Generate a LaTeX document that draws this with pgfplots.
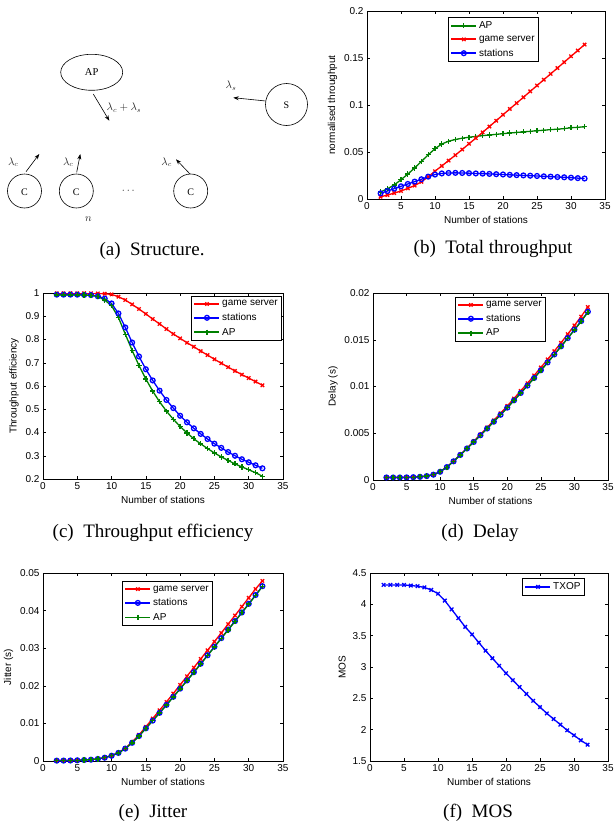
\documentclass[border=0pt]{standalone}
\usepackage{fontspec}
\setmainfont{Liberation Serif}
\newfontfamily\hv{Liberation Sans}
\usepackage{pgfplots}
\usepackage{pgfplotstable}
\pgfplotsset{compat=1.18}
\usetikzlibrary{arrows.meta}

\definecolor{mgreen}{rgb}{0,0.5,0}

% total throughput
\pgfplotstableread{
n ap gs st
2 0.0075 0.0024 0.0060
3 0.0108 0.0042 0.0085
4 0.0150 0.0063 0.0110
5 0.0205 0.0085 0.0135
6 0.0265 0.0113 0.0160
7 0.0330 0.0143 0.0185
8 0.0400 0.0183 0.0210
9 0.0470 0.0236 0.0238
10 0.0535 0.0296 0.0260
11 0.0585 0.0352 0.0272
12 0.0615 0.0409 0.0277
13 0.0633 0.0467 0.0278
14 0.0647 0.0527 0.0277
15 0.0657 0.0587 0.0275
16 0.0666 0.0648 0.0272
17 0.0674 0.0709 0.0270
18 0.0681 0.0771 0.0267
19 0.0688 0.0833 0.0264
20 0.0695 0.0896 0.0261
21 0.0702 0.0958 0.0257
22 0.0708 0.1020 0.0254
23 0.0714 0.1082 0.0251
24 0.0720 0.1145 0.0248
25 0.0726 0.1207 0.0245
26 0.0732 0.1269 0.0241
27 0.0738 0.1331 0.0238
28 0.0743 0.1393 0.0234
29 0.0749 0.1456 0.0231
30 0.0758 0.1518 0.0227
31 0.0763 0.1580 0.0222
32 0.0768 0.1643 0.0218
}\tabB

% throughput efficiency
\pgfplotstableread{
n gs st ap
2 0.999 0.993 0.992
3 0.999 0.993 0.992
4 0.999 0.993 0.992
5 0.999 0.993 0.992
6 0.999 0.992 0.991
7 0.999 0.991 0.990
8 0.998 0.986 0.985
9 0.997 0.976 0.970
10 0.994 0.955 0.945
11 0.984 0.912 0.895
12 0.970 0.852 0.823
13 0.951 0.787 0.753
14 0.931 0.727 0.688
15 0.910 0.672 0.630
16 0.888 0.624 0.578
17 0.867 0.580 0.532
18 0.845 0.540 0.492
19 0.824 0.505 0.457
20 0.805 0.472 0.426
21 0.786 0.444 0.398
22 0.769 0.418 0.373
23 0.750 0.394 0.351
24 0.733 0.372 0.331
25 0.715 0.352 0.312
26 0.698 0.334 0.295
27 0.681 0.316 0.280
28 0.665 0.300 0.265
29 0.649 0.285 0.252
30 0.634 0.272 0.240
31 0.619 0.259 0.227
32 0.603 0.246 0.212
}\tabC

% delay
\pgfplotstableread{
n gs st ap
2 0.00028 0.00027 0.00027
3 0.00028 0.00027 0.00027
4 0.00028 0.00027 0.00027
5 0.00029 0.00028 0.00028
6 0.00031 0.00030 0.00030
7 0.00035 0.00034 0.00034
8 0.00043 0.00042 0.00042
9 0.00058 0.00057 0.00057
10 0.00090 0.00088 0.00088
11 0.00140 0.00138 0.00137
12 0.00202 0.00200 0.00199
13 0.00272 0.00268 0.00267
14 0.00342 0.00337 0.00336
15 0.00414 0.00407 0.00406
16 0.00488 0.00479 0.00478
17 0.00562 0.00551 0.00550
18 0.00638 0.00624 0.00623
19 0.00714 0.00698 0.00697
20 0.00792 0.00774 0.00772
21 0.00872 0.00852 0.00850
22 0.00953 0.00931 0.00929
23 0.01035 0.01010 0.01008
24 0.01118 0.01091 0.01089
25 0.01203 0.01174 0.01171
26 0.01290 0.01258 0.01255
27 0.01378 0.01343 0.01340
28 0.01467 0.01430 0.01427
29 0.01560 0.01518 0.01515
30 0.01653 0.01608 0.01605
31 0.01748 0.01700 0.01696
32 0.01850 0.01800 0.01795
}\tabD

% jitter
\pgfplotstableread{
n gs st ap
2 0.00010 0.00010 0.00010
3 0.00012 0.00011 0.00011
4 0.00015 0.00014 0.00014
5 0.00020 0.00019 0.00019
6 0.00027 0.00026 0.00026
7 0.00038 0.00036 0.00036
8 0.00058 0.00055 0.00055
9 0.00092 0.00088 0.00088
10 0.00145 0.00140 0.00139
11 0.00225 0.00215 0.00214
12 0.00340 0.00330 0.00328
13 0.00505 0.00485 0.00482
14 0.00695 0.00665 0.00662
15 0.00910 0.00870 0.00866
16 0.01130 0.01075 0.01070
17 0.01350 0.01282 0.01277
18 0.01570 0.01492 0.01486
19 0.01795 0.01708 0.01702
20 0.02025 0.01925 0.01918
21 0.02255 0.02143 0.02136
22 0.02485 0.02363 0.02355
23 0.02715 0.02588 0.02580
24 0.02945 0.02813 0.02805
25 0.03175 0.03040 0.03032
26 0.03405 0.03268 0.03260
27 0.03640 0.03495 0.03487
28 0.03870 0.03722 0.03714
29 0.04105 0.03950 0.03942
30 0.04340 0.04180 0.04172
31 0.04575 0.04415 0.04405
32 0.04790 0.04650 0.04640
}\tabE

% MOS
\pgfplotstableread{
n txop
2 4.31
3 4.31
4 4.31
5 4.31
6 4.30
7 4.29
8 4.27
9 4.23
10 4.17
11 4.06
12 3.92
13 3.78
14 3.64
15 3.52
16 3.39
17 3.26
18 3.14
19 3.02
20 2.90
21 2.79
22 2.68
23 2.57
24 2.46
25 2.36
26 2.26
27 2.17
28 2.08
29 1.99
30 1.91
31 1.83
32 1.76
}\tabF

\pgfplotsset{
  mat/.style={
    scale only axis,
    anchor=south west,
    xmin=0, xmax=35, xtick={0,5,...,35},
    axis line style={line width=0.5pt},
    every tick/.style={black, line width=0.5pt},
    major tick length=3pt,
    tick label style={font=\hv\fontsize{10}{11}\selectfont},
    label style={font=\hv\fontsize{10}{11}\selectfont},
    /pgf/number format/assume math mode=true,
    scaled ticks=false,
    yticklabel style={/pgf/number format/fixed, /pgf/number format/precision=3},
    xlabel={Number of stations},
    legend cell align=left,
    legend style={draw=black, line width=0.9pt, fill=white,
      font=\hv\fontsize{10}{11}\selectfont, anchor=north west,
      inner xsep=2pt, inner ysep=2.5pt, row sep=2.8pt,
      nodes={inner xsep=1.8pt, inner ysep=1.6pt}},
    legend image code/.code={
      \draw[#1,line width=1.9pt] (0pt,0pt) -- (25pt,0pt);
      \draw[mark repeat=2,mark phase=2,#1]
        plot coordinates {(0pt,0pt) (12.5pt,0pt) (25pt,0pt)};},
  },
  gsl/.style={red, mark=x, line width=1.3pt, mark size=2.4pt},
  stl/.style={blue, mark=o, line width=1.3pt, mark size=2.4pt},
  apl/.style={mgreen, mark=+, line width=1.3pt, mark size=2.6pt},
}

\begin{document}
\begin{tikzpicture}
\useasboundingbox (0pt,0pt) rectangle (613pt,-827pt);

% (a) structure diagram
\begin{scope}[x=1pt, y=-1pt, line width=0.6pt]
  \draw (91.7,72.3) ellipse [x radius=31, y radius=18];
  \node at (91.7,72.3) {\fontsize{10.5}{12}\selectfont AP};
  \draw (286.5,104.5) circle [radius=21];
  \node at (286.5,105) {\fontsize{10}{12}\selectfont S};
  \foreach \cx in {24.5,76.3,190.7} {
    \draw (\cx,191) circle [radius=17];
    \node at (\cx,192.5) {\fontsize{10}{12}\selectfont C};
  }
  \begin{scope}[-{Stealth[length=5.5pt,width=4pt]}]
    \draw (93.3,94) -- (109.3,120.7);
    \draw (265.7,101) -- (233.3,97.7);
    \draw (26,171.7) -- (39.3,154);
    \draw (76.7,172.3) -- (80.3,154);
    \draw (190,174) -- (176,159.3);
  \end{scope}
  \begin{scope}[black!85, font=\fontsize{10.5}{12}\selectfont]
    \node at (124,108) {$\lambda_c+\lambda_s$};
    \node at (231,86) {$\lambda_s$};
    \node at (13.3,162.3) {$\lambda_c$};
    \node at (68.3,162.3) {$\lambda_c$};
    \node at (166.7,162.3) {$\lambda_c$};
    \node at (128.3,191) {$\cdots$};
    \node at (88.3,219) {$n$};
  \end{scope}
  \begin{scope}[font=\fontsize{19}{22}\selectfont]
    \node at (152,251) {(a)\enspace Structure.};
    \node at (493,249) {(b)\enspace Total throughput};
    \node at (153,533) {(c)\enspace Throughput efficiency};
    \node at (480,533) {(d)\enspace Delay};
    \node at (153,813) {(e)\enspace Jitter};
    \node at (478,813) {(f)\enspace MOS};
  \end{scope}
\end{scope}

% (b) total throughput
\begin{axis}[mat, at={(367pt,-199pt)}, width=238pt, height=188pt,
  ymin=0, ymax=0.2, ytick={0,0.05,...,0.2},
  ylabel={normalised throughput},
  legend style={at={(0.340,0.968)}}]
  \addplot[apl] table[x=n, y=ap] {\tabB};
  \addplot[gsl] table[x=n, y=gs] {\tabB};
  \addplot[stl] table[x=n, y=st] {\tabB};
  \legend{AP, game server, stations}
\end{axis}

% (c) throughput efficiency
\begin{axis}[mat, at={(43pt,-479pt)}, width=240pt, height=186pt,
  ymin=0.2, ymax=1, ytick={0.2,0.3,...,1.0},
  ylabel={Throughput efficiency},
  legend style={at={(0.617,0.984)}}]
  \addplot[gsl] table[x=n, y=gs] {\tabC};
  \addplot[stl] table[x=n, y=st] {\tabC};
  \addplot[apl] table[x=n, y=ap] {\tabC};
  \legend{game server, stations, AP}
\end{axis}

% (d) delay
\begin{axis}[mat, at={(373pt,-480pt)}, width=235pt, height=187pt,
  ymin=0, ymax=0.02, ytick={0,0.005,0.01,0.015,0.02},
  ylabel={Delay (s)},
  legend style={at={(0.349,0.979)}}]
  \addplot[gsl] table[x=n, y=gs] {\tabD};
  \addplot[stl] table[x=n, y=st] {\tabD};
  \addplot[apl] table[x=n, y=ap] {\tabD};
  \legend{game server, stations, AP}
\end{axis}

% (e) jitter
\begin{axis}[mat, at={(43pt,-761pt)}, width=240pt, height=188pt,
  ymin=0, ymax=0.05, ytick={0,0.01,0.02,0.03,0.04,0.05},
  ylabel={Jitter (s)},
  legend style={at={(0.329,0.957)}}]
  \addplot[gsl] table[x=n, y=gs] {\tabE};
  \addplot[stl] table[x=n, y=st] {\tabE};
  \addplot[apl] table[x=n, y=ap] {\tabE};
  \legend{game server, stations, AP}
\end{axis}

% (f) MOS
\begin{axis}[mat, at={(370pt,-761pt)}, width=238pt, height=188pt,
  ymin=1.5, ymax=4.5, ytick={1.5,2,...,4.5},
  ylabel={MOS},
  legend style={at={(0.639,0.973)}}]
  \addplot[blue, mark=x, line width=1.3pt, mark size=2.5pt] table[x=n, y=txop] {\tabF};
  \legend{TXOP}
\end{axis}
\end{tikzpicture}
\end{document}
